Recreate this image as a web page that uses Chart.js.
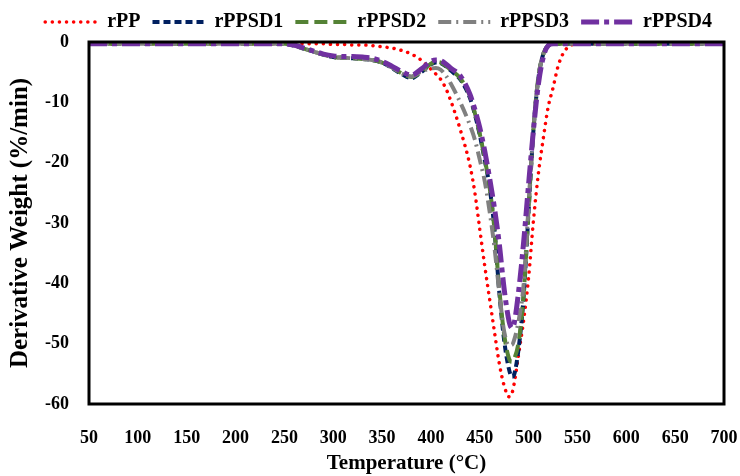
<!DOCTYPE html>
<html>
<head>
<meta charset="utf-8">
<script src="https://cdn.jsdelivr.net/npm/chart.js@4.4.1/dist/chart.umd.min.js"></script>
<style>
  html, body { margin: 0; padding: 0; background: #ffffff; }
  #wrap { width: 740px; height: 476px; position: relative; }
</style>
</head>
<body>
<div id="wrap"><canvas id="c" width="740" height="476"></canvas></div>
<script>
// Temperature grid (°C)
const temps = [50,100,150,200,250, 260,270,280,290,300, 310,320,330,340,350, 360,370,380,390,400,
  405,410,415,420,430, 440,445,450,455,460, 465,470,475,480,483, 485,490,495,500,505,
  510,515,520,525,530, 535,540,550,600,650, 700];

// Derivative weight (%/min)
const rPP = [-0.3,-0.3,-0.3,-0.3,-0.3, -0.3,-0.3,-0.3,-0.3,-0.4, -0.4,-0.5,-0.5,-0.6,-0.8, -1.0,-1.4,-2.0,-3.0,-4.5,
  -5.3,-6.2,-7.6,-9.6,-14.5, -20.5,-25,-31,-37,-42.5, -48,-53.3,-57,-58.8,-58.2, -56.8,-51.5,-46,-39,-29.5,
  -21.8,-16,-10.8,-7.6,-4.1, -2.0,-0.9,-0.3,-0.3,-0.3, -0.3];
const rPPSD1 = [-0.3,-0.3,-0.3,-0.3,-0.3, -0.6,-1.1,-1.6,-2.1,-2.5, -2.6,-2.7,-2.8,-3.0,-3.4, -4.3,-5.3,-6.0,-5.0,-3.7,
  -3.4,-3.5,-4.0,-4.7,-6.2, -9.3,-12,-15.4,-19.5,-24, -31,-41.5,-49.5,-54.3,-55.5, -55.2,-50.5,-42,-28,-14.5,
  -6,-2,-0.6,-0.3,-0.3, -0.3,-0.3,-0.3,-0.3,-0.3, -0.3];
const rPPSD2 = [-0.3,-0.3,-0.3,-0.3,-0.3, -0.6,-1.1,-1.6,-2.1,-2.5, -2.6,-2.7,-2.8,-3.0,-3.4, -4.2,-5.2,-5.8,-4.9,-3.6,
  -3.3,-3.4,-3.9,-4.6,-6.0, -9.0,-11.8,-15.2,-19.3,-24, -31,-41,-48.5,-52.5,-53, -52.6,-49.5,-41.5,-27.5,-14.3,
  -5.8,-2,-0.6,-0.3,-0.3, -0.3,-0.3,-0.3,-0.3,-0.3, -0.3];
const rPPSD3 = [-0.3,-0.3,-0.3,-0.3,-0.3, -0.6,-1.1,-1.6,-2.1,-2.5, -2.6,-2.7,-2.8,-3.0,-3.4, -4.2,-5.2,-5.7,-4.9,-4.4,
  -4.3,-4.6,-5.5,-6.8,-10, -13.8,-16.2,-19.5,-23,-28, -34,-41.5,-48,-50.3,-50.2, -49.5,-46,-40,-27,-14.3,
  -5.8,-2,-0.6,-0.3,-0.3, -0.3,-0.3,-0.3,-0.3,-0.3, -0.3];
const rPPSD4 = [-0.3,-0.3,-0.3,-0.3,-0.3, -0.5,-1.0,-1.5,-2.0,-2.3, -2.4,-2.4,-2.5,-2.7,-3.2, -4.0,-4.9,-5.5,-4.5,-3.2,
  -3.0,-3.1,-3.6,-4.3,-5.6, -8.7,-11.2,-14.2,-18,-22.5, -27.5,-33.5,-41,-46.3,-47.4, -46.8,-41,-33,-23.5,-14.5,
  -7,-2.5,-0.6,-0.3,-0.3, -0.3,-0.3,-0.3,-0.3,-0.3, -0.3];

const seriesNames = ['rPP','rPPSD1','rPPSD2','rPPSD3','rPPSD4'];
const xTicks = [50,100,150,200,250,300,350,400,450,500,550,600,650,700];
const yTicks = [0,-10,-20,-30,-40,-50,-60];

const FONT = "'Liberation Serif', 'Times New Roman', serif";
const toXY = arr => temps.map((t, i) => ({ x: t, y: arr[i] }));

const frame = {
  id: 'frame',
  afterDatasetsDraw(chart) {
    const { ctx, chartArea: a } = chart;
    ctx.save();
    ctx.strokeStyle = '#000';
    ctx.lineWidth = 3;
    ctx.strokeRect(a.left, a.top, a.right - a.left, a.bottom - a.top);
    ctx.restore();
  }
};

const base = { pointRadius: 0, fill: false, cubicInterpolationMode: 'monotone', pointStyle: 'line' };

new Chart(document.getElementById('c'), {
  type: 'line',
  data: {
    datasets: [
      Object.assign({ label: seriesNames[0], data: toXY(rPP), borderColor: '#ff0000', backgroundColor: '#ff0000',
        borderWidth: 3.5, borderDash: [0.1, 7], borderCapStyle: 'round', order: 5 }, base),
      Object.assign({ label: seriesNames[1], data: toXY(rPPSD1), borderColor: '#002060', backgroundColor: '#002060',
        borderWidth: 4, borderDash: [7, 4], borderCapStyle: 'butt', order: 4 }, base),
      Object.assign({ label: seriesNames[2], data: toXY(rPPSD2), borderColor: '#548235', backgroundColor: '#548235',
        borderWidth: 4, borderDash: [13, 6], borderCapStyle: 'butt', order: 3 }, base),
      Object.assign({ label: seriesNames[3], data: toXY(rPPSD3), borderColor: '#808080', backgroundColor: '#808080',
        borderWidth: 4, borderDash: [13, 5, 2, 5], borderCapStyle: 'butt', order: 2 }, base),
      Object.assign({ label: seriesNames[4], data: toXY(rPPSD4), borderColor: '#7030a0', backgroundColor: '#7030a0',
        borderWidth: 5, borderDash: [18, 5, 5, 5], borderCapStyle: 'butt', order: 1 }, base)
    ]
  },
  options: {
    responsive: false,
    animation: false,
    devicePixelRatio: 1,
    layout: { autoPadding: false, padding: { top: 0, right: 16, bottom: 0, left: 0 } },
    plugins: {
      tooltip: { enabled: false },
      legend: {
        display: true,
        position: 'top',
        align: 'end',
        labels: {
          usePointStyle: true,
          pointStyle: 'line',
          pointStyleWidth: 52,
          color: '#000',
          padding: 12,
          font: { family: FONT, size: 20, weight: 'bold' },
          sort: (a, b) => a.datasetIndex - b.datasetIndex,
          generateLabels(chart) {
            const items = Chart.defaults.plugins.legend.labels.generateLabels(chart);
            items.forEach(it => {
              const ds = chart.data.datasets[it.datasetIndex];
              it.lineDash = ds.borderDash;
              it.lineCap = ds.borderCapStyle;
              it.lineWidth = ds.borderWidth;
              it.strokeStyle = ds.borderColor;
            });
            return items;
          }
        }
      }
    },
    scales: {
      x: {
        type: 'linear',
        min: 50, max: 700,
        afterBuildTicks: s => { s.ticks = xTicks.map(v => ({ value: v })); },
        afterFit: s => { s.height = 72; s.paddingRight = 0; s.paddingLeft = 0; },
        grid: { display: false, drawTicks: false },
        border: { display: false },
        ticks: { color: '#000', padding: 24, maxRotation: 0, autoSkip: false,
          font: { family: FONT, size: 18, weight: 'bold' } },
        title: { display: true, text: 'Temperature (°C)', color: '#000', padding: { top: 0, bottom: 0 },
          font: { family: FONT, size: 21, weight: 'bold' } }
      },
      y: {
        min: -60, max: 0,
        afterBuildTicks: s => { s.ticks = yTicks.map(v => ({ value: v })); },
        afterFit: s => { s.width = 89; s.paddingTop = 0; s.paddingBottom = 0; },
        grid: { display: false, drawTicks: false },
        border: { display: false },
        ticks: { color: '#000', padding: 20, autoSkip: false,
          font: { family: FONT, size: 18, weight: 'bold' } },
        title: { display: true, text: 'Derivative Weight (%/min)', color: '#000', padding: { top: 6, bottom: 0 },
          font: { family: FONT, size: 25, weight: 'bold' } }
      }
    }
  },
  plugins: [frame]
});
</script>
</body>
</html>
